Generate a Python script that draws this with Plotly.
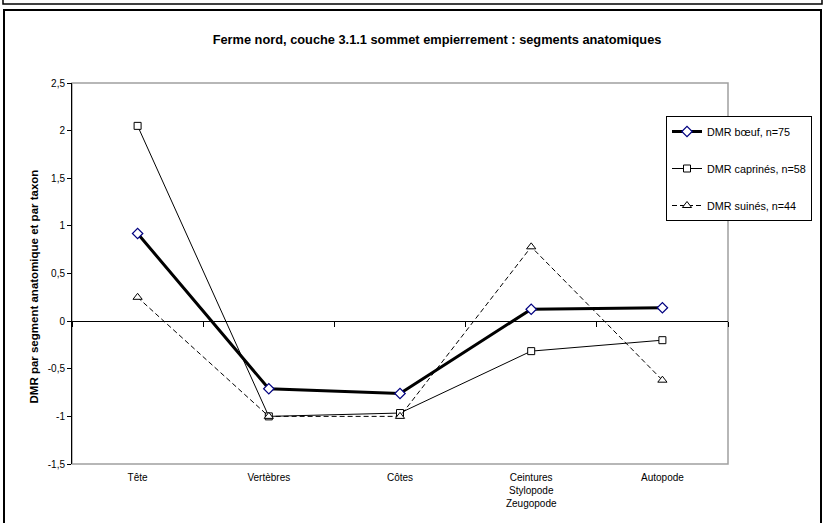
import plotly.graph_objects as go

# ---- data ----
categories = ["Tête", "Vertèbres", "Côtes", "Ceintures<br>Stylopode<br>Zeugopode", "Autopode"]
boeuf = [0.92, -0.71, -0.76, 0.125, 0.14]
caprines = [2.05, -1.0, -0.965, -0.315, -0.20]
suines = [0.25, -1.0, -1.0, 0.78, -0.62]
series_names = ["DMR bœuf, n=75", "DMR caprinés, n=58", "DMR suinés, n=44"]
y_ticks = [-1.5, -1, -0.5, 0, 0.5, 1, 1.5, 2, 2.5]
y_ticktext = [f"{v:g}".replace(".", ",") for v in y_ticks]
title_text = "Ferme nord, couche 3.1.1 sommet empierrement : segments anatomiques"
ytitle_text = "DMR par segment anatomique et par taxon"

W, H = 825, 523
ML, MR, MT, MB = 72, 97, 83, 59
PW, PH = W - ML - MR, H - MT - MB
YMIN, YMAX = -1.5, 2.5

def px_x(px):
    return (px - ML) / PW

def px_y(py):
    return (H - MB - py) / PH

FONT = "Liberation Sans, Arial, sans-serif"

fig = go.Figure()

fig.add_trace(go.Scatter(
    x=categories, y=boeuf, name=series_names[0], mode="lines+markers",
    line=dict(color="black", width=3),
    marker=dict(symbol="diamond", size=8, color="white", line=dict(color="#000080", width=1.2)),
    legendgroup="a",
))
fig.add_trace(go.Scatter(
    x=categories, y=caprines, name=series_names[1], mode="lines+markers",
    line=dict(color="black", width=1),
    marker=dict(symbol="square", size=7, color="white", line=dict(color="black", width=1)),
    legendgroup="b",
))
fig.add_trace(go.Scatter(
    x=categories, y=suines, name=series_names[2], mode="lines+markers",
    line=dict(color="black", width=1, dash="5px,3px"),
    marker=dict(symbol="triangle-up", size=8, color="white", line=dict(color="black", width=1)),
    legendgroup="c",
))
# invisible trace to carry the zero-crossing tick axis
fig.add_trace(go.Scatter(
    x=categories, y=boeuf, xaxis="x2", mode="none", showlegend=False, hoverinfo="skip",
))

zero_pos = (0 - YMIN) / (YMAX - YMIN)

fig.update_layout(
    width=W, height=H,
    margin=dict(l=ML, r=MR, t=MT, b=MB),
    paper_bgcolor="white", plot_bgcolor="white",
    separators=", ",
    font=dict(family=FONT, size=10, color="black"),
    title=dict(text=title_text, x=437 / W, xanchor="center", y=1 - 40 / H, yanchor="middle",
               font=dict(family=FONT, size=12.8, weight="bold", color="black")),
    showlegend=True,
    legend=dict(x=px_x(666), y=px_y(116), xanchor="left", yanchor="top",
                bgcolor="white", bordercolor="black", borderwidth=1,
                font=dict(family=FONT, size=10.8, color="black"),
                tracegroupgap=18, itemwidth=30),
    xaxis=dict(type="category", categoryorder="array", categoryarray=categories,
               range=[-0.5, 4.5], showgrid=False, zeroline=False, showline=False,
               ticks="outside", ticklen=4, tickcolor="rgba(0,0,0,0)",
               tickfont=dict(family=FONT, size=10, color="black")),
    xaxis2=dict(type="category", categoryorder="array", categoryarray=categories,
                range=[-0.5, 4.5], overlaying="x", anchor="free", position=zero_pos,
                showgrid=False, zeroline=False, showline=False, showticklabels=False,
                ticks="outside", ticklen=5, tickcolor="black", tickwidth=1, tickson="boundaries"),
    yaxis=dict(range=[YMIN, YMAX], tickvals=y_ticks, ticktext=y_ticktext, showgrid=False,
               zeroline=True, zerolinecolor="black", zerolinewidth=1,
               showline=True, linecolor="black", linewidth=1,
               ticks="outside", ticklen=4, tickcolor="black",
               tickfont=dict(family=FONT, size=10, color="black")),
)

shapes = [
    # plot area frame (grey)
    dict(type="rect", xref="paper", yref="paper", x0=0, x1=1, y0=0, y1=1,
         line=dict(color="#a0a0a0", width=1.5), layer="below"),
    # outer chart frame
    dict(type="rect", xref="paper", yref="paper", x0=px_x(4), x1=px_x(821), y0=px_y(530), y1=px_y(10),
         line=dict(color="black", width=2), layer="below"),
    # top strip (previous frame bottom)
    dict(type="path", xref="paper", yref="paper",
         path=f"M {px_x(3)},{px_y(-2)} L {px_x(3)},{px_y(4)} L {px_x(822)},{px_y(4)} L {px_x(822)},{px_y(-2)}",
         line=dict(color="black", width=1.5), layer="below"),
]
fig.update_layout(shapes=shapes)

fig.add_annotation(text=ytitle_text, xref="paper", yref="paper", x=px_x(33), y=px_y(286.5),
                   textangle=-90, showarrow=False, xanchor="center", yanchor="middle",
                   font=dict(family=FONT, size=11.5, weight="bold", color="black"))

fig.write_html("out.html", config={"displayModeBar": False},
               post_script="document.body.style.margin='0px';")
